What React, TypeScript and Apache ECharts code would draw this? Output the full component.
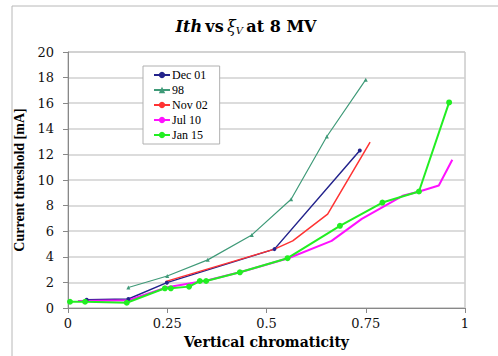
import React, { useEffect, useRef } from "react";
import * as echarts from "echarts";

// Vertical chromaticity (x) and current threshold in mA (y) for each run
const dec01X = [0.047, 0.152, 0.249, 0.52, 0.735];
const dec01Y = [0.65, 0.7, 1.98, 4.6, 12.3];

const run98X = [0.152, 0.25, 0.352, 0.463, 0.562, 0.652, 0.75];
const run98Y = [1.6, 2.5, 3.76, 5.71, 8.5, 13.4, 17.84];

const nov02X = [0.245, 0.52, 0.566, 0.654, 0.761];
const nov02Y = [2.06, 4.6, 5.24, 7.33, 12.96];

const jul10X = [0.025, 0.152, 0.25, 0.35, 0.44, 0.555, 0.664, 0.74, 0.845, 0.885, 0.934, 0.968];
const jul10Y = [0.55, 0.6, 1.62, 2.15, 2.85, 3.89, 5.24, 6.96, 8.79, 9.1, 9.57, 11.58];

const jan15X = [0.005, 0.043, 0.148, 0.244, 0.259, 0.305, 0.332, 0.348, 0.433, 0.553, 0.685, 0.792, 0.884, 0.96];
const jan15Y = [0.49, 0.49, 0.41, 1.54, 1.54, 1.67, 2.11, 2.11, 2.79, 3.89, 6.42, 8.24, 9.1, 16.06];

const xTicks = [0, 0.25, 0.5, 0.75, 1];

const SERIF = "Liberation Serif";
const WIDE_SERIF = "DejaVu Serif";

const pairs = (xs: number[], ys: number[]) => xs.map((x, i) => [x, ys[i]]);

export default function App() {
  const ref = useRef<HTMLDivElement>(null);

  useEffect(() => {
    if (!ref.current) return;
    const chart = echarts.init(ref.current, undefined, { renderer: "svg" });

    const line = (
      name: string,
      xs: number[],
      ys: number[],
      color: string,
      width: number,
      symbol: string,
      size: number
    ) => ({
      name,
      type: "line",
      data: pairs(xs, ys),
      color,
      lineStyle: { color, width },
      itemStyle: { color },
      symbol,
      symbolSize: size,
      showSymbol: symbol !== "none",
    });

    chart.setOption({
      animation: false,
      backgroundColor: "#ffffff",
      textStyle: { fontFamily: SERIF },
      grid: {
        left: 68,
        top: 52,
        width: 397,
        height: 256,
        show: true,
        borderColor: "#b0b0b0",
        borderWidth: 1,
        backgroundColor: "transparent",
      },
      graphic: [
        {
          type: "line",
          shape: { x1: 12, y1: 6, x2: 498, y2: 6 },
          style: { stroke: "#b8b8b8", lineWidth: 1 },
        },
        {
          type: "line",
          shape: { x1: 12, y1: 6, x2: 12, y2: 356 },
          style: { stroke: "#b8b8b8", lineWidth: 1 },
        },
        {
          type: "text",
          x: 246,
          y: 26,
          style: {
            text: "{b|Ith} {n|vs} {x|ξ}{s|V} {n|at 8 MV}",
            align: "center",
            verticalAlign: "middle",
            fill: "#000",
            rich: {
              b: { fontFamily: WIDE_SERIF, fontSize: 16, fontWeight: "bold", fontStyle: "italic", lineHeight: 19 },
              n: { fontFamily: WIDE_SERIF, fontSize: 16, fontWeight: "bold", lineHeight: 19 },
              x: { fontFamily: WIDE_SERIF, fontSize: 16, fontStyle: "italic", lineHeight: 19 },
              s: { fontFamily: WIDE_SERIF, fontSize: 10, fontStyle: "italic", verticalAlign: "bottom", lineHeight: 19 },
            },
          },
        },
      ],
      legend: {
        orient: "vertical",
        left: 143,
        top: 66,
        width: 73,
        padding: [3, 12, 3, 10],
        itemGap: 3,
        itemWidth: 16,
        itemHeight: 8,
        borderColor: "#b0b0b0",
        borderWidth: 1,
        backgroundColor: "#ffffff",
        textStyle: { fontFamily: SERIF, fontSize: 12, color: "#000", padding: [0, 0, 0, -3] },
        data: ["Dec 01", "98", "Nov 02", "Jul 10", "Jan 15"],
      },
      xAxis: {
        type: "value",
        min: 0,
        max: 1,
        interval: 0.25,
        name: "Vertical chromaticity",
        nameLocation: "middle",
        nameGap: 27,
        nameTextStyle: { fontFamily: WIDE_SERIF, fontSize: 14, fontWeight: "bold", color: "#000" },
        axisLine: { show: true, lineStyle: { color: "#888", width: 1 } },
        axisTick: { show: true, length: 5, lineStyle: { color: "#888" } },
        axisLabel: {
          margin: 9,
          fontFamily: WIDE_SERIF,
          fontSize: 13,
          color: "#111",
          formatter: (v: number) => (xTicks.includes(v) ? String(v) : ""),
        },
        splitLine: { show: false },
      },
      yAxis: {
        type: "value",
        min: 0,
        max: 20,
        interval: 2,
        name: "Current threshold [mA]",
        nameLocation: "middle",
        nameGap: 35,
        nameTextStyle: { fontFamily: SERIF, fontSize: 14, fontWeight: "bold", color: "#000" },
        axisLine: { show: true, lineStyle: { color: "#888", width: 1 } },
        axisTick: { show: true, length: 5, lineStyle: { color: "#888" } },
        axisLabel: { margin: 14, fontFamily: WIDE_SERIF, fontSize: 13, color: "#111" },
        splitLine: { show: true, lineStyle: { color: "#d0d0d0", width: 1.5 } },
      },
      series: [
        line("Dec 01", dec01X, dec01Y, "#23238c", 1.5, "circle", 4),
        line("98", run98X, run98Y, "#3f9a78", 1.2, "triangle", 4),
        line("Nov 02", nov02X, nov02Y, "#ff3333", 1.5, "none", 0),
        line("Jul 10", jul10X, jul10Y, "#ff10ff", 2, "none", 0),
        line("Jan 15", jan15X, jan15Y, "#22ee22", 2, "circle", 6),
      ],
    });

    return () => chart.dispose();
  }, []);

  return (
    <div
      ref={ref}
      style={{ position: "fixed", left: 0, top: 0, width: 498, height: 356, background: "#fff" }}
    />
  );
}
